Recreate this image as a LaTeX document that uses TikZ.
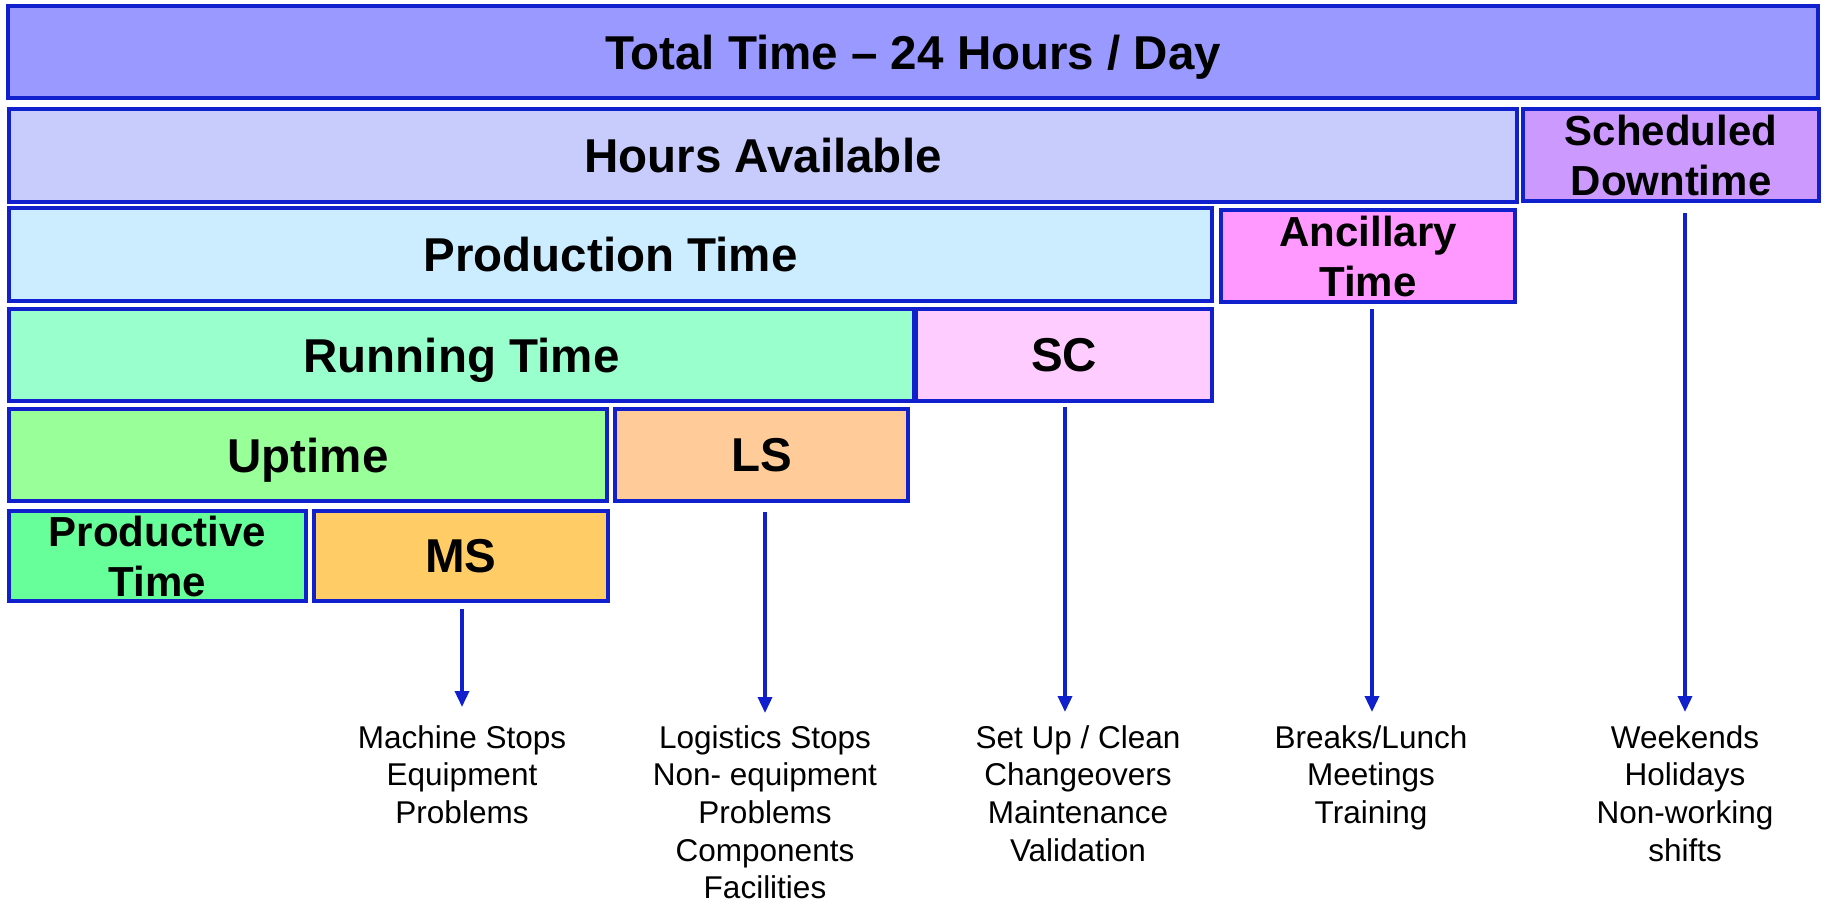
\documentclass[tikz,border=0pt]{standalone}
\usepackage{fontspec}
\setmainfont{Liberation Sans}
\usetikzlibrary{arrows.meta}
\definecolor{bord}{RGB}{16,32,204}
\definecolor{ctotal}{RGB}{153,153,255}
\definecolor{chours}{RGB}{200,204,252}
\definecolor{csched}{RGB}{204,153,255}
\definecolor{cprod}{RGB}{204,236,255}
\definecolor{canc}{RGB}{255,153,255}
\definecolor{crun}{RGB}{153,255,204}
\definecolor{csc}{RGB}{255,204,255}
\definecolor{cup}{RGB}{153,255,153}
\definecolor{cls}{RGB}{255,204,153}
\definecolor{cptime}{RGB}{102,255,153}
\definecolor{cms}{RGB}{255,204,102}
\tikzset{
  basebox/.style={draw=bord, line width=4pt, inner sep=0pt, outer sep=0pt, anchor=north west, align=center},
  tbox/.style={basebox, text depth=0pt, font=\fontsize{47.5}{52}\selectfont\bfseries},
  tbox2/.style={basebox, font=\fontsize{42}{50}\selectfont\bfseries},
  arr/.style={draw=bord, line width=3.5pt, -{Triangle[width=14pt,length=16pt]}},
  note/.style={anchor=north, inner sep=0pt, align=center, font=\fontsize{31.5}{37.7}\selectfont}
}
\begin{document}
\begin{tikzpicture}[x=1pt,y=-1pt]
\useasboundingbox (0,0) rectangle (1825,904);
\node[tbox, fill=ctotal, minimum width=1810, minimum height=92] (total) at (8,6) {Total Time -- 24 Hours / Day};
\node[tbox, fill=chours, minimum width=1508, minimum height=93] (hours) at (9,109) {Hours Available};
\node[tbox2, fill=csched, minimum width=296, minimum height=92] (sched) at (1523,109) {Scheduled\\Downtime};
\node[tbox, fill=cprod, minimum width=1203, minimum height=93] (prod) at (9,208) {Production Time};
\node[tbox2, fill=canc, minimum width=294, minimum height=92] (anc) at (1221,210) {Ancillary\\Time};
\node[tbox, fill=crun, minimum width=905, minimum height=92] (run) at (9,309) {Running Time};
\node[tbox, fill=csc, minimum width=296, minimum height=92] (sc) at (916,309) {SC};
\node[tbox, fill=cup, minimum width=598, minimum height=92] (up) at (9,409) {Uptime};
\node[tbox, fill=cls, minimum width=293, minimum height=92] (ls) at (615,409) {LS};
\node[tbox2, fill=cptime, minimum width=297, minimum height=90] (ptime) at (9,511) {Productive\\Time};
\node[tbox, fill=cms, minimum width=294, minimum height=90] (ms) at (314,511) {MS};

\node[note] (msnote) at (462,725) {Machine Stops\\Equipment\\Problems};
\node[note] (lsnote) at (765,725) {Logistics Stops\\Non- equipment\\Problems\\Components\\Facilities};
\node[note] (scnote) at (1078,725) {Set Up / Clean\\Changeovers\\Maintenance\\Validation};
\node[note] (ancnote) at (1371,725) {Breaks/Lunch\\Meetings\\Training};
\node[note] (schednote) at (1685,725) {Weekends\\Holidays\\Non-working\\shifts};

\coordinate (msA) at (462,609);  \coordinate (msB) at (462,707);
\coordinate (lsA) at (765,512);  \coordinate (lsB) at (765,713);
\coordinate (scA) at (1065,407); \coordinate (scB) at (1065,712);
\coordinate (ancA) at (1372,309); \coordinate (ancB) at (1372,712);
\coordinate (schA) at (1685,213); \coordinate (schB) at (1685,712);
\draw[arr] (msA) -- (msB);
\draw[arr] (lsA) -- (lsB);
\draw[arr] (scA) -- (scB);
\draw[arr] (ancA) -- (ancB);
\draw[arr] (schA) -- (schB);
\end{tikzpicture}
\end{document}
